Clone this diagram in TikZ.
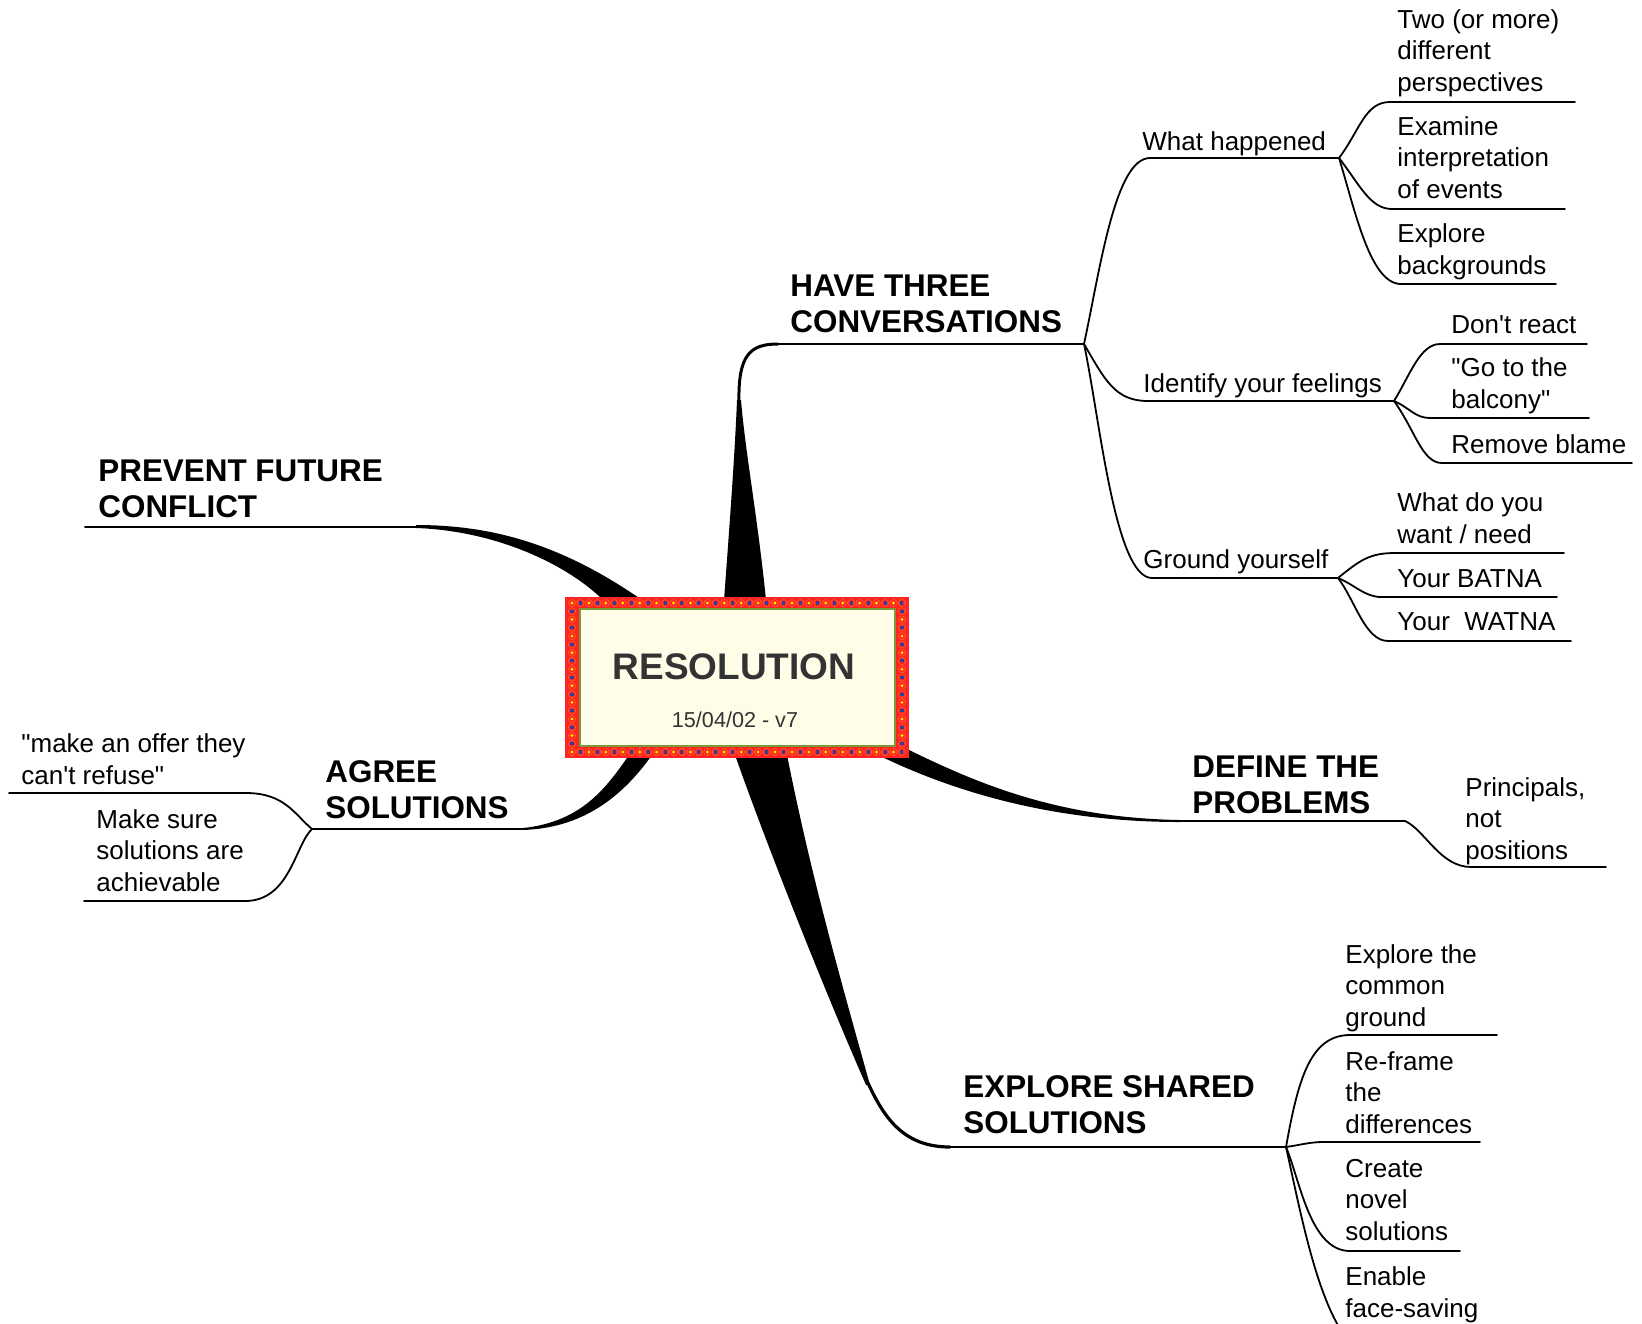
\documentclass[tikz,border=0pt]{standalone}
\usepackage{fontspec}
\setmainfont{Liberation Sans}[Ligatures=TeXOff]
\definecolor{boxred}{HTML}{FF2424}
\definecolor{cream}{HTML}{FFFDE8}
\definecolor{olivegr}{HTML}{7A9A3A}
\definecolor{dotyel}{HTML}{FFE400}
\definecolor{dotblu}{HTML}{2E3F9E}
\definecolor{dotorg}{HTML}{FF6A1E}
\definecolor{restext}{HTML}{333333}
\begin{document}
\begin{tikzpicture}[x=0.5pt,y=-0.5pt,line cap=round,line join=round,
  tx/.style={anchor=base west,inner sep=0pt,align=left,font=\fontsize{13}{15.75}\selectfont},
  hx/.style={anchor=base west,inner sep=0pt,align=left,font=\fontsize{15.7}{18}\selectfont\bfseries},
  ln1/.style={line width=1pt},
  ln2/.style={line width=0.9pt},
  taper/.style={fill=black},
  ]
\useasboundingbox (0,0) rectangle (1642,1323);

% ---------- coordinates (junctions / underline ends)
\coordinate (hA) at (778,344);  \coordinate (hB) at (1084,344);
\coordinate (pA) at (85,526.5); \coordinate (pB) at (416,526.5);
\coordinate (aA) at (312,829);  \coordinate (aB) at (523,829);
\coordinate (dA) at (1180,821); \coordinate (dB) at (1405,821);
\coordinate (eA) at (950,1147); \coordinate (eB) at (1286,1147);

\coordinate (whA) at (1150,158); \coordinate (whB) at (1339,158);
\coordinate (ifA) at (1148,401); \coordinate (ifB) at (1394,401);
\coordinate (gyA) at (1152,578); \coordinate (gyB) at (1338,578);

\coordinate (t1A) at (1390,102); \coordinate (t1B) at (1575,102);
\coordinate (t2A) at (1392,209); \coordinate (t2B) at (1565,209);
\coordinate (t3A) at (1401,284); \coordinate (t3B) at (1556,284);
\coordinate (f1A) at (1440,344); \coordinate (f1B) at (1587,344);
\coordinate (f2A) at (1430,418); \coordinate (f2B) at (1589,418);
\coordinate (f3A) at (1442,463); \coordinate (f3B) at (1632,463);
\coordinate (g1A) at (1395,553); \coordinate (g1B) at (1564,553);
\coordinate (g2A) at (1381,597); \coordinate (g2B) at (1557,597);
\coordinate (g3A) at (1388,641); \coordinate (g3B) at (1571,641);
\coordinate (prA) at (1471,867); \coordinate (prB) at (1606,867);
\coordinate (m1A) at (9,793);    \coordinate (m1B) at (246,793);
\coordinate (m2A) at (84,901);   \coordinate (m2B) at (245,901);
\coordinate (x1A) at (1350,1035); \coordinate (x1B) at (1497,1035);
\coordinate (x2A) at (1323,1142); \coordinate (x2B) at (1480,1142);
\coordinate (x3A) at (1350,1251); \coordinate (x3B) at (1460,1251);
\coordinate (x4A) at (1342,1332); \coordinate (x4B) at (1480,1332);

% ---------- main tapered branches
% HAVE THREE CONVERSATIONS
\fill[taper] (724,600) .. controls (730,520) and (735,450) .. (737,400) -- (741,400) .. controls (745,450) and (758,520) .. (766,600) -- cycle;
\draw[line width=1.5pt] (739,402) .. controls (738,355) and (750,344) .. (hA);
\draw[ln1] (hA) -- (hB);
% PREVENT FUTURE CONFLICT
\fill[taper] (pB) ++(0,-1.5) .. controls (490,525) and (560,543) .. (642,600) -- (603,600) .. controls (570,567) and (500,531) .. (416,528) -- cycle;
\draw[ln1] (pA) -- (pB);
% AGREE SOLUTIONS
\fill[taper] (629,755) .. controls (605,790) and (580,822) .. (523,828) -- (523,830) .. controls (580,828) and (620,800) .. (652,755) -- cycle;
\draw[ln1] (aA) -- (aB);
% DEFINE THE PROBLEMS
\fill[taper] (905,748) .. controls (980,785) and (1060,818) .. (1180,820) -- (1180,822) .. controls (1060,822) and (960,795) .. (878,755) -- cycle;
\draw[ln1] (dA) -- (dB);
% EXPLORE SHARED SOLUTIONS
\fill[taper] (735,755) .. controls (765,840) and (820,980) .. (866,1085) -- (870,1085) .. controls (835,960) and (810,870) .. (787,755) -- cycle;
\draw[line width=1.6pt] (868,1083) .. controls (885,1120) and (905,1147) .. (eA);
\draw[ln1] (eA) -- (eB);

% ---------- sub-branches
\draw[ln2] (hB) .. controls (1100,270) and (1115,158) .. (whA) -- (whB);
\draw[ln2] (hB) .. controls (1105,380) and (1115,401) .. (ifA) -- (ifB);
\draw[ln2] (hB) .. controls (1100,420) and (1115,578) .. (gyA) -- (gyB);

\draw[ln2] (whB) .. controls (1360,130) and (1365,102) .. (t1A) -- (t1B);
\draw[ln2] (whB) .. controls (1360,185) and (1370,209) .. (t2A) -- (t2B);
\draw[ln2] (whB) .. controls (1355,210) and (1370,284) .. (t3A) -- (t3B);

\draw[ln2] (ifB) .. controls (1410,375) and (1420,344) .. (f1A) -- (f1B);
\draw[ln2] (ifB) .. controls (1410,408) and (1415,418) .. (f2A) -- (f2B);
\draw[ln2] (ifB) .. controls (1415,430) and (1422,463) .. (f3A) -- (f3B);

\draw[ln2] (gyB) .. controls (1360,560) and (1370,553) .. (g1A) -- (g1B);
\draw[ln2] (gyB) .. controls (1355,585) and (1365,597) .. (g2A) -- (g2B);
\draw[ln2] (gyB) .. controls (1355,600) and (1365,641) .. (g3A) -- (g3B);

\draw[ln2] (dB) .. controls (1425,830) and (1440,867) .. (prA) -- (prB);

\draw[ln2] (aA) .. controls (295,815) and (285,793) .. (m1B) -- (m1A);
\draw[ln2] (aA) .. controls (295,845) and (290,901) .. (m2B) -- (m2A);

\draw[ln2] (eB) .. controls (1298,1080) and (1310,1035) .. (x1A) -- (x1B);
\draw[ln2] (eB) .. controls (1300,1145) and (1310,1142) .. (x2A) -- (x2B);
\draw[ln2] (eB) .. controls (1300,1180) and (1310,1251) .. (x3A) -- (x3B);
\draw[ln2] (eB) .. controls (1300,1210) and (1315,1290) .. (x4A) -- (x4B);

% ---------- central box
\fill[boxred] (565,597) rectangle (909,758);
\foreach \i in {0,...,39} {
  \draw[dotorg,line width=0.25pt] (572+\i*8.46,603) circle (3.6);
  \draw[dotorg,line width=0.25pt] (572+\i*8.46,752) circle (3.6);
}
\foreach \j in {1,...,17} {
  \draw[dotorg,line width=0.25pt] (572,603+\j*8.28) circle (3.6);
  \draw[dotorg,line width=0.25pt] (902,603+\j*8.28) circle (3.6);
}
\foreach \i in {0,2,...,38} {
  \fill[dotyel] (572+\i*8.46,603) circle (1.6);
  \fill[dotyel] (572+\i*8.46,752) circle (1.6);
}
\foreach \i in {1,3,...,39} {
  \fill[dotblu] (570.5+\i*8.46,601) rectangle ++(3,4);
  \fill[dotblu] (570.5+\i*8.46,750) rectangle ++(3,4);
}
\foreach \j in {2,4,...,16} {
  \fill[dotyel] (572,603+\j*8.28) circle (1.6);
  \fill[dotyel] (902,603+\j*8.28) circle (1.6);
}
\foreach \j in {1,3,...,17} {
  \fill[dotblu] (570,601.5+\j*8.28) rectangle ++(4,3);
  \fill[dotblu] (900,601.5+\j*8.28) rectangle ++(4,3);
}
\filldraw[fill=cream,draw=olivegr,line width=1pt] (580,609) rectangle (895,746);
\node[anchor=base,inner sep=0pt,text=restext,font=\fontsize{18.5}{22}\selectfont\bfseries] (res) at (734,679) {RESOLUTION};
\node[anchor=base,inner sep=0pt,text=restext,font=\fontsize{10.8}{13}\selectfont] (date) at (735,727) {15/04/02 - v7};

% ---------- headings (anchor = baseline of last line)
\node[hx] (have) at (790,332.7) {HAVE THREE\\CONVERSATIONS};
\node[hx] (prev) at (98,517) {PREVENT FUTURE\\CONFLICT};
\node[hx] (agree) at (325,818) {AGREE\\SOLUTIONS};
\node[hx] (define) at (1192,813) {DEFINE THE\\PROBLEMS};
\node[hx] (explore) at (963,1133) {EXPLORE SHARED\\SOLUTIONS};

% ---------- sub topics (anchor = baseline of last line)
\node[tx] (wh) at (1142,150) {What happened};
\node[tx] (idf) at (1143,392) {Identify your feelings};
\node[tx] (gy) at (1143,568) {Ground yourself};

\node[tx] (t1) at (1397,91) {Two (or more)\\different\\perspectives};
\node[tx] (t2) at (1397,198) {Examine\\interpretation\\of events};
\node[tx] (t3) at (1397,274) {Explore\\backgrounds};
\node[tx] (f1) at (1451,333) {Don't react};
\node[tx] (f2) at (1451,408) {"Go to the\\balcony"};
\node[tx] (f3) at (1451,453) {Remove blame};
\node[tx] (g1) at (1397,543) {What do you\\want / need};
\node[tx] (g2) at (1397,587) {Your BATNA};
\node[tx] (g3) at (1397,630) {Your\ \ WATNA};
\node[tx] (pr) at (1465,859) {Principals,\\not\\positions};
\node[tx] (m1) at (21,784) {"make an offer they\\can't refuse"};
\node[tx] (m2) at (96,891) {Make sure\\solutions are\\achievable};
\node[tx] (x1) at (1345,1026) {Explore the\\common\\ground};
\node[tx] (x2) at (1345,1133) {Re-frame\\the\\differences};
\node[tx] (x3) at (1345,1240) {Create\\novel\\solutions};
\node[tx] (x4) at (1345,1317) {Enable\\face-saving};
\end{tikzpicture}
\end{document}
